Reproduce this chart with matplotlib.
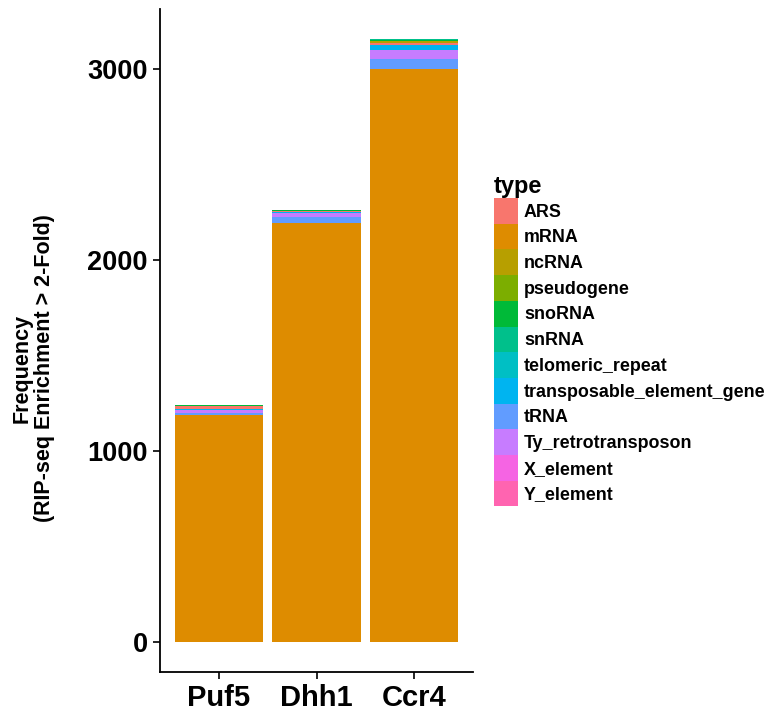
import numpy as np
import matplotlib.pyplot as plt
from matplotlib.patches import Patch

plt.rcParams['font.family'] = ['Liberation Sans', 'DejaVu Sans']
plt.rcParams['font.weight'] = 'bold'

# Bars and type levels
proteins = ['Puf5', 'Dhh1', 'Ccr4']
types = ['ARS', 'mRNA', 'ncRNA', 'pseudogene', 'snoRNA', 'snRNA',
         'telomeric_repeat', 'transposable_element_gene', 'tRNA',
         'Ty_retrotransposon', 'X_element', 'Y_element']
colors = ['#F8766D', '#DE8C00', '#B79F00', '#7CAE00', '#00BA38', '#00C08B',
          '#00BFC4', '#00B4F0', '#619CFF', '#C77CFF', '#F564E3', '#FF64B0']

# counts per type, one value per protein
mRNA = [1188, 2194, 3000]
tRNA = [9, 31, 55]
Ty_retrotransposon = [16, 21, 48]
transposable_element_gene = [5, 5, 26]
ARS = [14, 5, 10]
ncRNA = [0, 0, 8]
pseudogene = [0, 0, 0]
snoRNA = [5, 5, 6]
snRNA = [0, 2, 5]
telomeric_repeat = [2, 0, 0]
X_element = [0, 0, 0]
Y_element = [0, 0, 0]

counts = {'ARS': ARS, 'mRNA': mRNA, 'ncRNA': ncRNA, 'pseudogene': pseudogene,
          'snoRNA': snoRNA, 'snRNA': snRNA, 'telomeric_repeat': telomeric_repeat,
          'transposable_element_gene': transposable_element_gene, 'tRNA': tRNA,
          'Ty_retrotransposon': Ty_retrotransposon, 'X_element': X_element,
          'Y_element': Y_element}
col = dict(zip(types, colors))

# stacking order, bottom to top
stack_order = ['mRNA', 'tRNA', 'Ty_retrotransposon', 'transposable_element_gene',
               'telomeric_repeat', 'X_element', 'Y_element', 'ARS', 'ncRNA',
               'pseudogene', 'snoRNA', 'snRNA']

fig = plt.figure(figsize=(7.69, 7.11), dpi=100)
ax = fig.add_axes([160 / 769, 39 / 711, 313 / 769, 663 / 711])

x = np.arange(1, len(proteins) + 1)
bottom = np.zeros(len(proteins))
for t in stack_order:
    v = np.array(counts[t], dtype=float)
    ax.bar(x, v, width=0.9, bottom=bottom, color=col[t], linewidth=0)
    bottom += v

top = bottom.max()
ax.set_xlim(0.4, 3.6)
ax.set_ylim(-0.05 * top, 1.05 * top)
ax.set_xticks(x)
ax.set_xticklabels(proteins, fontsize=21, fontweight='bold')
ax.set_yticks([0, 1000, 2000, 3000])
ax.set_yticklabels(['0', '1000', '2000', '3000'], fontsize=19.5, fontweight='bold')
ax.tick_params(axis='both', length=5, width=1.2, color='black', pad=4)

for s in ['top', 'right']:
    ax.spines[s].set_visible(False)
for s in ['left', 'bottom']:
    ax.spines[s].set_linewidth(1.3)

fig.text(33 / 769, 1 - 368 / 711, 'Frequency\n(RIP-seq Enrichment > 2-Fold)',
         rotation=90, ha='center', va='center', fontsize=15.5, fontweight='bold',
         linespacing=1.1)

handles = [Patch(facecolor=col[t], edgecolor='none', label=t) for t in types]
fs = 12.9
px = fs * 100 / 72
key_h = 25.7 / px
leg = fig.legend(handles=handles, loc='upper left',
                 bbox_to_anchor=(494 / 769, 1 - 175 / 711),
                 frameon=False, fontsize=fs, title='type',
                 title_fontproperties={'size': 17, 'weight': 'bold'},
                 handlelength=24 / px, handleheight=(key_h - 0.245) / 0.65,
                 handletextpad=6 / px, labelspacing=0, borderpad=0,
                 borderaxespad=0)
leg._legend_box.align = 'left'
for t in leg.get_texts():
    t.set_fontweight('bold')

fig.savefig('out.png', dpi=100)
